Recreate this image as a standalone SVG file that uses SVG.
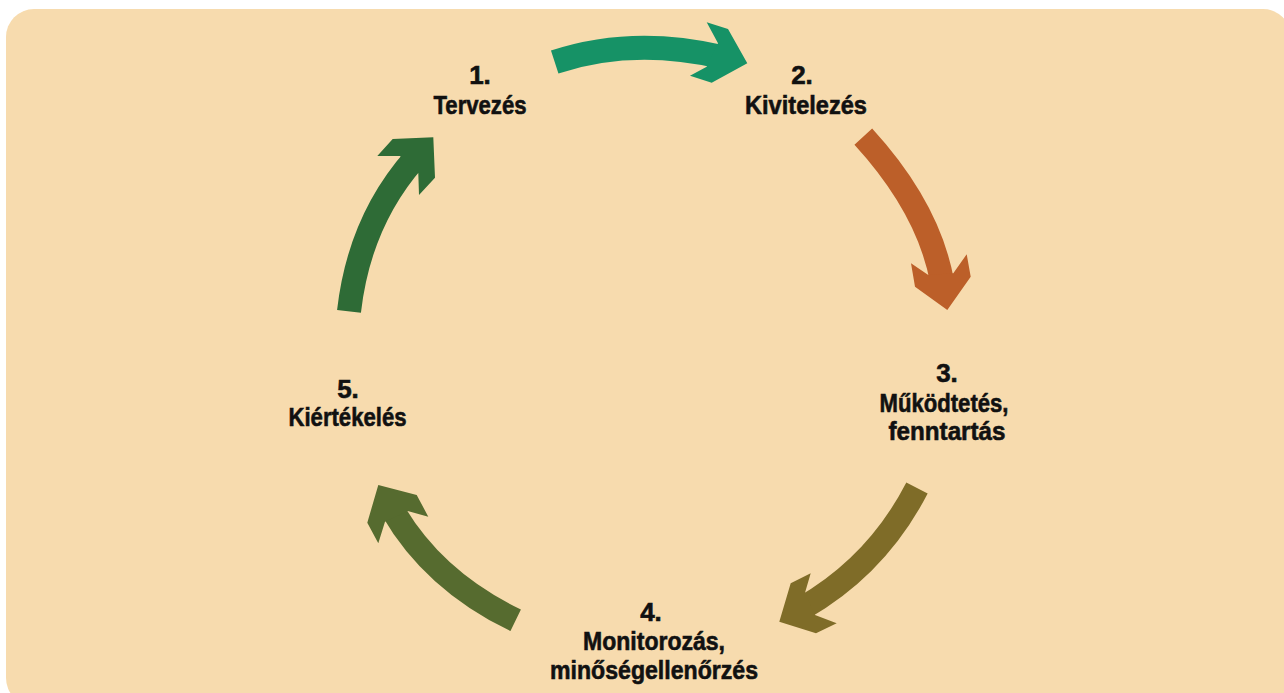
<svg xmlns="http://www.w3.org/2000/svg" width="1284" height="693" viewBox="0 0 1284 693">
<style>
  .lbl { font-family: "Liberation Sans", Arial, sans-serif; font-weight: bold; font-size: 26px; fill: #111; stroke: #111; stroke-width: 0.6; text-anchor: middle; }
  .body { fill: none; stroke-width: 24; stroke-linecap: butt; }
</style>
<rect x="6" y="9" width="1285" height="697" rx="28" ry="28" fill="#F7DBAE"/>
<g id="connectors">
  <g id="arrow-1-2" fill="#169266">
    <path class="body" stroke="#169266" d="M554.7,62 Q632.5,36.5 720.2,56.8"/>
    <polygon points="718,43.3 706.7,22.3 728,29 747.3,63.3 711.7,82.7 690,75.7 706.7,66.7"/>
  </g>
  <g id="arrow-2-3" fill="#BC5F29">
    <path class="body" stroke="#BC5F29" d="M863.3,136.7 Q928.8,208.3 942.2,282.1"/>
    <polygon points="928.3,275 911,263.3 915,286.7 947.3,310 970.7,276.7 966.7,254.3 953.3,273.3"/>
  </g>
  <g id="arrow-3-4" fill="#7F6C28">
    <path class="body" stroke="#7F6C28" d="M917,488 Q877.2,565.2 803.1,607.8"/>
    <polygon points="805,592.7 810.7,573.3 790.7,583.3 779.3,621.7 816,633.3 836.7,623.3 815,615"/>
  </g>
  <g id="arrow-4-5" fill="#566B2F">
    <path class="body" stroke="#566B2F" d="M515.7,620.3 Q433.2,580.5 392.3,509.4"/>
    <polygon points="407.7,511 428.3,516.7 416.7,495 378.3,485 367.3,522.7 378.3,543.3 385,521.7"/>
  </g>
  <g id="arrow-5-1" fill="#2E6B36">
    <path class="body" stroke="#2E6B36" d="M349,311.3 Q359.3,221.4 414.5,158.7"/>
    <polygon points="400,156 377.3,156 392.7,139 433.3,137.3 435,177.7 419,195 418.3,173.3"/>
  </g>
</g>
<g id="node-1">
  <text class="lbl" x="480" y="84">1.</text>
  <text class="lbl" x="480" y="114" textLength="93" lengthAdjust="spacingAndGlyphs">Tervezés</text>
</g>
<g id="node-2">
  <text class="lbl" x="802" y="84">2.</text>
  <text class="lbl" x="806" y="114" textLength="122" lengthAdjust="spacingAndGlyphs">Kivitelezés</text>
</g>
<g id="node-3">
  <text class="lbl" x="947" y="382">3.</text>
  <text class="lbl" x="944" y="411.5" textLength="129" lengthAdjust="spacingAndGlyphs">Működtetés,</text>
  <text class="lbl" x="947" y="440" textLength="117" lengthAdjust="spacingAndGlyphs">fenntartás</text>
</g>
<g id="node-4">
  <text class="lbl" x="651" y="620.5">4.</text>
  <text class="lbl" x="654" y="649.5" textLength="142" lengthAdjust="spacingAndGlyphs">Monitorozás,</text>
  <text class="lbl" x="654" y="678.5" textLength="208" lengthAdjust="spacingAndGlyphs">minőségellenőrzés</text>
</g>
<g id="node-5">
  <text class="lbl" x="348" y="397.5">5.</text>
  <text class="lbl" x="347.5" y="425.5" textLength="118" lengthAdjust="spacingAndGlyphs">Kiértékelés</text>
</g>
</svg>
